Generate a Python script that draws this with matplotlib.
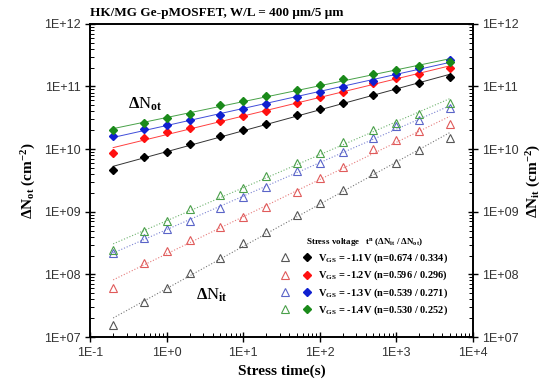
import numpy as np
import matplotlib
matplotlib.use("Agg")
import matplotlib.pyplot as plt
from matplotlib.ticker import FuncFormatter, LogLocator
from matplotlib.legend_handler import HandlerTuple

plt.rcParams['mathtext.fontset'] = 'custom'
plt.rcParams['mathtext.rm'] = 'Liberation Serif:bold'
plt.rcParams['mathtext.it'] = 'Liberation Serif:bold'
plt.rcParams['mathtext.bf'] = 'Liberation Serif:bold'

# stress time (s)
t = [0.2, 0.5, 1, 2, 5, 10, 20, 50, 100, 200, 500, 1000, 2000, 5000]

# delta N_ot (cm^-2), filled diamonds
not_11 = [4.6e9, 7.6e9, 9.1e9, 1.2e10, 1.6e10, 2.0e10, 2.5e10, 3.5e10, 4.3e10, 5.4e10, 7.4e10, 9.1e10, 1.15e11, 1.44e11]
not_12 = [8.6e9, 1.5e10, 1.86e10, 2.2e10, 2.8e10, 3.4e10, 4.1e10, 5.4e10, 6.7e10, 8.1e10, 1.15e11, 1.38e11, 1.6e11, 1.95e11]
not_13 = [1.6e10, 2.1e10, 2.4e10, 2.9e10, 3.5e10, 4.3e10, 5.2e10, 6.7e10, 8.3e10, 9.8e10, 1.23e11, 1.6e11, 1.95e11, 2.6e11]
not_14 = [2.05e10, 2.6e10, 3.1e10, 3.7e10, 5.1e10, 5.8e10, 7.0e10, 8.9e10, 1.07e11, 1.3e11, 1.58e11, 1.85e11, 2.15e11, 2.5e11]

# delta N_it (cm^-2), open triangles
nit_11 = [1.55e7, 3.6e7, 6.0e7, 1.05e8, 1.85e8, 3.2e8, 4.7e8, 8.9e8, 1.37e9, 2.2e9, 4.1e9, 6.0e9, 9.8e9, 1.5e10]
nit_12 = [6.1e7, 1.5e8, 2.4e8, 3.5e8, 5.8e8, 8.4e8, 1.17e9, 2.1e9, 3.4e9, 5.2e9, 1.02e10, 1.4e10, 1.95e10, 2.5e10]
nit_13 = [2.2e8, 3.8e8, 5.4e8, 7.1e8, 1.15e9, 1.7e9, 2.45e9, 4.4e9, 6.1e9, 9.1e9, 1.5e10, 2.3e10, 2.9e10, 4.6e10]
nit_14 = [2.45e8, 5.0e8, 7.1e8, 1.1e9, 1.85e9, 2.4e9, 3.7e9, 6.0e9, 8.7e9, 1.3e10, 2.05e10, 2.6e10, 3.7e10, 5.4e10]

labels = [r"V$_{GS}$ = -1.1V (n=0.674 / 0.334)",
          r"V$_{GS}$ = -1.2V (n=0.596 / 0.296)",
          r"V$_{GS}$ = -1.3V (n=0.539 / 0.271)",
          r"V$_{GS}$ = -1.4V (n=0.530 / 0.252)"]
dia_colors = ['black', '#ff1010', '#1020d0', '#1a8a1a']
tri_colors = ['#555555', '#e05a5a', '#5a64c8', '#4aa04a']

fig = plt.figure(figsize=(5.53, 3.91), dpi=100)
ax = fig.add_axes([0.163, 0.138, 0.692, 0.801])

tt = np.geomspace(t[0], t[-1], 100)
handles = []
for nit, nt, dc, tc in zip([nit_11, nit_12, nit_13, nit_14], [not_11, not_12, not_13, not_14],
                           dia_colors, tri_colors):
    p = np.polyfit(np.log10(t), np.log10(nt), 1)
    ax.plot(tt, 10 ** np.polyval(p, np.log10(tt)), color=dc, lw=0.7, alpha=0.8)
    q = np.polyfit(np.log10(t), np.log10(nit), 1)
    ax.plot(tt, 10 ** np.polyval(q, np.log10(tt)), color=tc, lw=0.8, ls=':', alpha=0.8)
    h1, = ax.plot(t, nit, ls='none', marker='^', mfc='none', mec=tc, mew=0.8, ms=5.5)
    h2, = ax.plot(t, nt, ls='none', marker='D', color=dc, ms=4.5)
    handles.append((h1, h2))

ax.set_xscale('log')
ax.set_yscale('log')
ax.set_xlim(0.1, 1e4)
ax.set_ylim(1e7, 1e12)

xfmt = FuncFormatter(lambda v, pos: "1E%+d" % int(round(np.log10(v))))
yfmt = FuncFormatter(lambda v, pos: "1E%+03d" % int(round(np.log10(v))))
ax.xaxis.set_major_formatter(xfmt)
ax.yaxis.set_major_formatter(yfmt)
ax.xaxis.set_minor_locator(LogLocator(subs=np.arange(2, 10), numticks=20))
ax.yaxis.set_minor_locator(LogLocator(subs=np.arange(2, 10), numticks=20))

ax2 = ax.twinx()
ax2.set_yscale('log')
ax2.set_ylim(1e7, 1e12)
ax2.yaxis.set_major_formatter(yfmt)
ax2.yaxis.set_minor_locator(LogLocator(subs=np.arange(2, 10), numticks=20))

for a in (ax, ax2):
    a.tick_params(which='major', direction='inout', length=7, width=1, labelsize=9)
    a.tick_params(which='minor', direction='in', length=3, width=0.7)
    for s in a.spines.values():
        s.set_linewidth(1.2)
for lab in ax.get_xticklabels() + ax.get_yticklabels() + ax2.get_yticklabels():
    lab.set_fontfamily('Liberation Sans')
    lab.set_color('#333333')

ax.set_xlabel("Stress time(s)", fontfamily='Liberation Serif', fontweight='bold', fontsize=11)
ax.set_ylabel(r"$\Delta$N$_{ot}$ (cm$^{-2}$)", fontfamily='Liberation Serif', fontweight='bold', fontsize=11)
ax2.set_ylabel(r"$\Delta$N$_{it}$ (cm$^{-2}$)", fontfamily='Liberation Serif', fontweight='bold', fontsize=11,
               rotation=90, labelpad=4)

ax.text(0.52, 5.2e10, r"$\Delta$N$_{ot}$", fontfamily='Liberation Serif', fontsize=12, ha='center', va='center')
ax.text(3.9, 4.7e7, r"$\Delta$N$_{it}$", fontfamily='Liberation Serif', fontsize=12, ha='center', va='center')

fig.text(0.163, 0.968, "HK/MG Ge-pMOSFET, W/L = 400 μm/5 μm", fontfamily='Liberation Serif',
         fontweight='bold', fontsize=9.5, ha='left', va='center')

leg = ax.legend(handles, labels, handler_map={tuple: HandlerTuple(ndivide=None, pad=1.2)},
                loc='lower right', bbox_to_anchor=(0.96, 0.035), frameon=False,
                prop={'family': 'Liberation Serif', 'weight': 'bold', 'size': 7.5},
                title=r"Stress voltage   t$^{n}$ ($\Delta$N$_{it}$ / $\Delta$N$_{ot}$)",
                title_fontproperties={'family': 'Liberation Serif', 'weight': 'bold', 'size': 6.5},
                handlelength=3.0, handletextpad=0.6, labelspacing=0.35)
leg.set_zorder(5)

fig.savefig("out.png", dpi=100)
